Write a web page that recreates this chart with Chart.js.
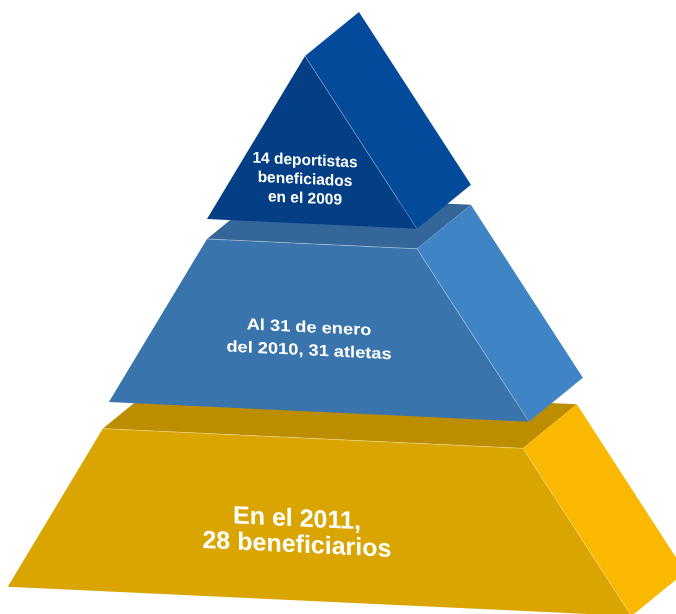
<!DOCTYPE html>
<html lang="es">
<head>
<meta charset="UTF-8">
<title>Pirámide de beneficiarios</title>
<script src="https://cdn.jsdelivr.net/npm/chart.js"></script>
<style> html, body { margin: 0; padding: 0; background: #fff; } canvas { display: block; } </style>
</head>
<body>
<canvas id="pyramid" width="676" height="614"></canvas>
<script>
// tiers, top to bottom
const tierYears = ['2009', '2010', '2011'];
const tierValues = [14, 31, 28];
const tierLabels = [
    ['14 deportistas', 'beneficiados', 'en el 2009'],
    ['Al 31 de enero', 'del 2010, 31 atletas'],
    ['En el 2011,', '28 beneficiarios']
];

// faces: top, front, right side
const tierColors = [
    { top: '#04408a', front: '#043f85', side: '#044a9b' },
    { top: '#34669a', front: '#3a74ad', side: '#3f84c5' },
    { top: '#bd8d00', front: '#daa500', side: '#fab800' }
];

// pyramid geometry in scale units (1 level = one tier)
const SHEAR = 0.047;
const LEFT_SLOPE = 0.585, RIGHT_SLOPE = 0.668;
const DEPTH = { u: 0.322, l: -0.2777 };
const tierShift = [
    { u: 0, l: 0, span: 1 },
    { u: 0, l: 0.119, span: 1 },
    { u: -0.036, l: 0.28, span: 0.97 }
];
const labelStyle = [
    { size: 15.5, lh: 19, stretch: 1, u: 0, l: 0.7315 },
    { size: 16, lh: 23, stretch: 1.14, u: 0.024, l: 0.5636 },
    { size: 25, lh: 26, stretch: 1, u: -0.012, l: 0.554 }
];

function poly(ctx, pts, color) {
    ctx.beginPath();
    ctx.moveTo(pts[0][0], pts[0][1]);
    for (let k = 1; k < pts.length; k++) ctx.lineTo(pts[k][0], pts[k][1]);
    ctx.closePath();
    ctx.fillStyle = color;
    ctx.fill();
}

function edge(ctx, a, b) {
    ctx.beginPath();
    ctx.moveTo(a[0], a[1]);
    ctx.lineTo(b[0], b[1]);
    ctx.strokeStyle = 'rgba(255,255,255,0.3)';
    ctx.lineWidth = 1;
    ctx.stroke();
}

const pyramidPlugin = {
    id: 'pyramid',
    beforeDatasetsDraw(chart) {
        const ctx = chart.ctx, xs = chart.scales.x, ys = chart.scales.y;
        const x0 = xs.getPixelForValue(0);
        const pt = (u, l) => {
            const x = xs.getPixelForValue(u);
            return [x, ys.getPixelForValue(l) + SHEAR * (x - x0)];
        };
        ctx.save();
        for (let i = tierValues.length - 1; i >= 0; i--) {
            const s = tierShift[i], c = tierColors[i];
            const lt = i, lb = i + s.span;
            const TLm = [s.u - LEFT_SLOPE * lt, lt + s.l], TRm = [s.u + RIGHT_SLOPE * lt, lt + s.l];
            const BLm = [s.u - LEFT_SLOPE * lb, lb + s.l], BRm = [s.u + RIGHT_SLOPE * lb, lb + s.l];
            const back = m => pt(m[0] + DEPTH.u, m[1] + DEPTH.l);
            const TL = pt(...TLm), TR = pt(...TRm), BL = pt(...BLm), BR = pt(...BRm);
            if (i > 0) poly(ctx, [TL, TR, back(TRm), back(TLm)], c.top);
            poly(ctx, [TR, back(TRm), back(BRm), BR], c.side);
            poly(ctx, i > 0 ? [TL, TR, BR, BL] : [TL, BR, BL], c.front);
            edge(ctx, TR, BR);
            if (i > 0) edge(ctx, TL, TR);
        }
        ctx.restore();
    },
    afterDatasetsDraw(chart) {
        const ctx = chart.ctx, xs = chart.scales.x, ys = chart.scales.y;
        const x0 = xs.getPixelForValue(0);
        tierLabels.forEach((lines, i) => {
            const st = labelStyle[i], s = tierShift[i];
            const cx = xs.getPixelForValue(s.u + st.u);
            const cy = ys.getPixelForValue(i + s.l + st.l) + SHEAR * (cx - x0);
            ctx.save();
            ctx.translate(cx, cy);
            ctx.transform(1, SHEAR, 0, 1, 0, 0);
            ctx.scale(st.stretch, 1);
            ctx.fillStyle = '#ffffff';
            ctx.font = 'bold ' + st.size + 'px "Liberation Sans", Arial, sans-serif';
            ctx.textAlign = 'center';
            ctx.textBaseline = 'alphabetic';
            const first = -(lines.length - 1) / 2 * st.lh + 0.35 * st.size;
            lines.forEach((t, k) => ctx.fillText(t, 0, first + k * st.lh));
            ctx.restore();
        });
    }
};

new Chart(document.getElementById('pyramid'), {
    type: 'scatter',
    data: {
        labels: tierYears,
        datasets: [{
            data: tierValues.map((v, i) => ({ x: 0, y: i + 0.5, v })),
            pointRadius: 0
        }]
    },
    options: {
        responsive: false,
        animation: false,
        events: [],
        layout: { padding: 0 },
        plugins: { legend: { display: false }, tooltip: { enabled: false } },
        scales: {
            x: { type: 'linear', display: false, min: -1.8198, max: 2.2136 },
            y: { type: 'linear', display: false, reverse: true, min: -0.3341, max: 3.3294 }
        }
    },
    plugins: [pyramidPlugin]
});
</script>
</body>
</html>
